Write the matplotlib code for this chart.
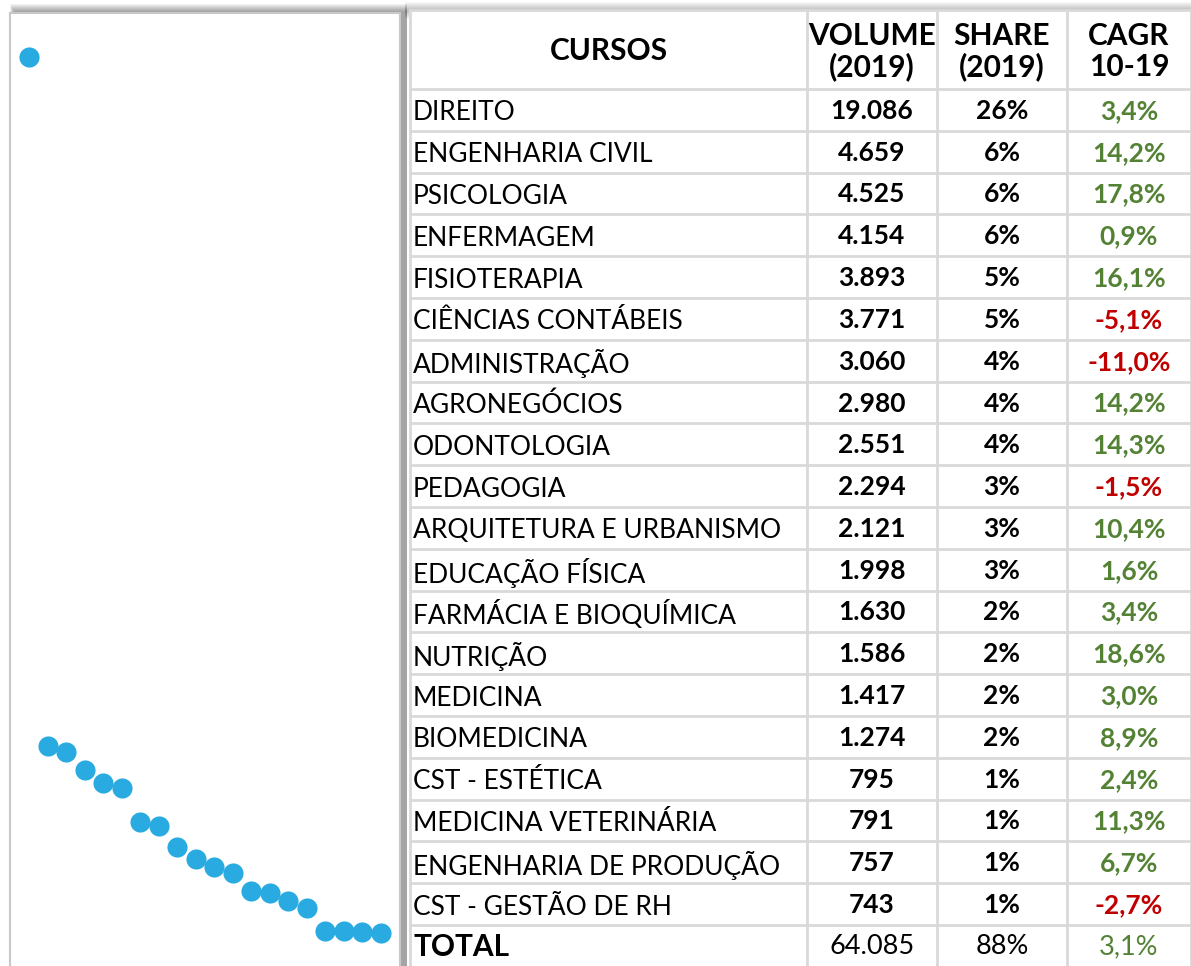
# -*- coding: utf-8 -*-

import matplotlib.pyplot as plt
from matplotlib.patches import Rectangle

plt.rcParams['font.family'] = ['Lato', 'DejaVu Sans']

# dados da tabela
cursos = ['DIREITO', 'ENGENHARIA CIVIL', 'PSICOLOGIA', 'ENFERMAGEM', 'FISIOTERAPIA',
          'CIÊNCIAS CONTÁBEIS', 'ADMINISTRAÇÃO', 'AGRONEGÓCIOS', 'ODONTOLOGIA',
          'PEDAGOGIA', 'ARQUITETURA E URBANISMO', 'EDUCAÇÃO FÍSICA',
          'FARMÁCIA E BIOQUÍMICA', 'NUTRIÇÃO', 'MEDICINA', 'BIOMEDICINA',
          'CST - ESTÉTICA', 'MEDICINA VETERINÁRIA', 'ENGENHARIA DE PRODUÇÃO',
          'CST - GESTÃO DE RH']
volume = [19086, 4659, 4525, 4154, 3893, 3771, 3060, 2980, 2551, 2294,
          2121, 1998, 1630, 1586, 1417, 1274, 795, 791, 757, 743]
share = [26, 6, 6, 6, 5, 5, 4, 4, 4, 3, 3, 3, 2, 2, 2, 2, 1, 1, 1, 1]
cagr = [3.4, 14.2, 17.8, 0.9, 16.1, -5.1, -11.0, 14.2, 14.3, -1.5,
        10.4, 1.6, 3.4, 18.6, 3.0, 8.9, 2.4, 11.3, 6.7, -2.7]
total_volume = 64085
total_share = 88
total_cagr = 3.1

headers = ['CURSOS', 'VOLUME\n(2019)', 'SHARE\n(2019)', 'CAGR\n10-19']

VERDE = '#548235'
VERMELHO = '#C00000'
AZUL = '#29ABE2'
GRADE = '#d9d9d9'


def fmt_vol(v):
    return '{:,}'.format(v).replace(',', '.')


def fmt_pct(v):
    return '{:.1f}%'.format(v).replace('.', ',')


W, H = 1191, 966
fig = plt.figure(figsize=(W / 100, H / 100), dpi=100, facecolor='white')

# eixo em pixels para a tabela e as sombras
ax = fig.add_axes([0, 0, 1, 1])
ax.set_xlim(0, W)
ax.set_ylim(H, 0)
ax.axis('off')

# sombra do topo e do painel
for i in range(8):
    a = 0.05
    ax.add_patch(Rectangle((10 + i * 0.6, 4 + i), 397 - i * 0.6, H, facecolor='black',
                           alpha=a, lw=0, zorder=0))
    ax.add_patch(Rectangle((405, 2 + i), W - 405, 10, facecolor='black',
                           alpha=a * 0.6, lw=0, zorder=0))
ax.add_patch(Rectangle((409, 10), W - 409, H, facecolor='white', lw=0, zorder=1))

# grade da tabela
col_x = [410, 807, 937, 1067, W]
top, head_h, row_h = 10, 79, 41.8
n_rows = len(cursos) + 1
row_y = [top] + [top + head_h + k * row_h for k in range(n_rows + 1)]
for x in col_x:
    ax.plot([x, x], [top, H], color=GRADE, lw=2, zorder=2)
for y in row_y:
    ax.plot([col_x[0], W], [y, y], color=GRADE, lw=2, zorder=2)

centers = [(col_x[i] + col_x[i + 1]) / 2 for i in range(4)]
FS = 19
FS_HEAD = 21.5

# cabeçalho
ax.text(centers[0], top + head_h / 2 + 2, headers[0], ha='center', va='center',
        fontsize=FS_HEAD, fontweight='bold', zorder=3)
for i in range(1, 4):
    ax.text(centers[i], top + head_h / 2 + 2, headers[i], ha='center', va='center',
            fontsize=FS_HEAD, fontweight='bold', linespacing=1.12, zorder=3)

# linhas
for k, nome in enumerate(cursos):
    yc = row_y[k + 1] + row_h / 2 + 1
    ax.text(413, yc + 2, nome, ha='left', va='center', fontsize=FS, zorder=3)
    ax.text(centers[1], yc, fmt_vol(volume[k]), ha='center', va='center',
            fontsize=FS, fontweight='bold', zorder=3)
    ax.text(centers[2], yc, '{}%'.format(share[k]), ha='center', va='center',
            fontsize=FS, fontweight='bold', zorder=3)
    ax.text(centers[3], yc, fmt_pct(cagr[k]), ha='center', va='center',
            fontsize=FS, fontweight='bold', zorder=3,
            color=VERDE if cagr[k] >= 0 else VERMELHO)

yc = row_y[-2] + row_h / 2 + 1
ax.text(413, yc, 'TOTAL', ha='left', va='center', fontsize=21.5, fontweight='bold', zorder=3)
ax.text(centers[1], yc, fmt_vol(total_volume), ha='center', va='center', fontsize=19.5, zorder=3)
ax.text(centers[2], yc, '{}%'.format(total_share), ha='center', va='center', fontsize=19.5, zorder=3)
ax.text(centers[3], yc, fmt_pct(total_cagr), ha='center', va='center', fontsize=19.5, zorder=3,
        color=VERDE if total_cagr >= 0 else VERMELHO)

# painel de dispersão
px_l, px_r, px_t = 10, 400, 13
axs = fig.add_axes([px_l / W, 0, (px_r - px_l) / W, (H - px_t) / H])
axs.set_facecolor('white')
idx = list(range(len(volume)))
axs.scatter(idx, volume, s=210, color=AZUL, lw=0, zorder=3)
axs.set_xlim(-1.03, 20.03)
axs.set_ylim(52, 20007)
axs.set_xticks([])
axs.set_yticks([])
for lado in ['left', 'top', 'right']:
    axs.spines[lado].set_color('#c8c8c8')
    axs.spines[lado].set_linewidth(1.5)
axs.spines['bottom'].set_visible(False)

fig.savefig('out.png', dpi=100, facecolor='white')
